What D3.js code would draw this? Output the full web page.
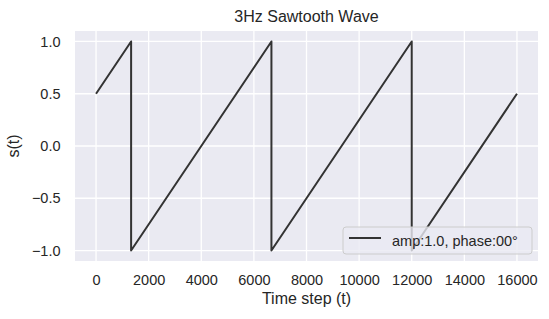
<!DOCTYPE html>
<html lang="en">
<head>
    <meta charset="UTF-8">
    <title>3Hz Sawtooth Wave</title>
    <script src="https://d3js.org/d3.v7.min.js"></script>
    <style type="text/css">
        body { margin: 0; background: #fff; }
        text { font-family: "Liberation Sans", Arial, sans-serif; fill: #262626; }
        .axis text { font-size: 14.5px; fill: #262626; }
        .axis path, .axis line { display: none; }
        .grid line { stroke: #fff; stroke-width: 1.3px; }
        .wave { fill: none; stroke: #333333; stroke-width: 2px; stroke-linejoin: round; }
        .title { font-size: 16px; }
        .label { font-size: 16px; }
        .legend-text { font-size: 14.5px; }
    </style>
</head>
<body>
<script type="text/javascript">
    // vertices of the sawtooth (time step, amplitude)
    const timeSteps = [0, 1333, 1333, 6667, 6667, 12000, 12000, 16000];
    const values = [0.5, 1.0, -1.0, 1.0, -1.0, 1.0, -1.0, 0.5];
    const xTicks = [0, 2000, 4000, 6000, 8000, 10000, 12000, 14000, 16000];
    const yTicks = [-1.0, -0.5, 0.0, 0.5, 1.0];
    const seriesName = "amp:1.0, phase:00°";

    const width = 549, height = 319;
    const margin = {left: 75, right: 11, top: 31, bottom: 58};

    const svg = d3.select("body").append("svg")
        .attr("width", width)
        .attr("height", height);

    const x = d3.scaleLinear()
        .domain([-800, 16800])
        .range([margin.left, width - margin.right]);
    const y = d3.scaleLinear()
        .domain([-1.1, 1.1])
        .range([height - margin.bottom, margin.top]);

    svg.append("rect")
        .attr("x", margin.left)
        .attr("y", margin.top)
        .attr("width", width - margin.left - margin.right)
        .attr("height", height - margin.top - margin.bottom)
        .attr("fill", "#eaeaf2");

    const grid = svg.append("g").attr("class", "grid");
    grid.selectAll(".gx").data(xTicks).join("line")
        .attr("x1", d => x(d)).attr("x2", d => x(d))
        .attr("y1", margin.top).attr("y2", height - margin.bottom);
    grid.selectAll(".gy").data(yTicks).join("line")
        .attr("y1", d => y(d)).attr("y2", d => y(d))
        .attr("x1", margin.left).attr("x2", width - margin.right);

    const fmtY = d => d3.format(".1f")(d).replace("-", "\u2212");

    svg.append("g")
        .attr("class", "axis")
        .attr("transform", `translate(0,${height - margin.bottom})`)
        .call(d3.axisBottom(x).tickValues(xTicks).tickFormat(d3.format("d")).tickSize(0).tickPadding(14));

    svg.append("g")
        .attr("class", "axis")
        .attr("transform", `translate(${margin.left},0)`)
        .call(d3.axisLeft(y).tickValues(yTicks).tickFormat(fmtY).tickSize(0).tickPadding(14.5));

    const pts = timeSteps.map((t, i) => [t, values[i]]);
    const line = d3.line().x(d => x(d[0])).y(d => y(d[1]));

    svg.append("path")
        .datum(pts)
        .attr("class", "wave")
        .attr("d", line);

    svg.append("text")
        .attr("class", "title")
        .attr("x", (margin.left + width - margin.right) / 2)
        .attr("y", 22)
        .attr("text-anchor", "middle")
        .text("3Hz Sawtooth Wave");

    svg.append("text")
        .attr("class", "label")
        .attr("x", (margin.left + width - margin.right) / 2)
        .attr("y", 304)
        .attr("text-anchor", "middle")
        .text("Time step (t)");

    svg.append("text")
        .attr("class", "label")
        .attr("transform", `translate(19,${(margin.top + height - margin.bottom) / 2}) rotate(-90)`)
        .attr("text-anchor", "middle")
        .text("s(t)");

    // legend
    const lg = svg.append("g").attr("transform", "translate(343,227)");
    lg.append("rect")
        .attr("width", 189).attr("height", 27)
        .attr("rx", 3)
        .attr("fill", "#eaeaf2").attr("fill-opacity", 0.8)
        .attr("stroke", "#cccccc").attr("stroke-width", 1);
    lg.append("line")
        .attr("x1", 6).attr("x2", 38)
        .attr("y1", 11).attr("y2", 11)
        .attr("stroke", "#333333").attr("stroke-width", 2);
    lg.append("text")
        .attr("class", "legend-text")
        .attr("x", 49).attr("y", 19)
        .text(seriesName);
</script>
</body>
</html>
